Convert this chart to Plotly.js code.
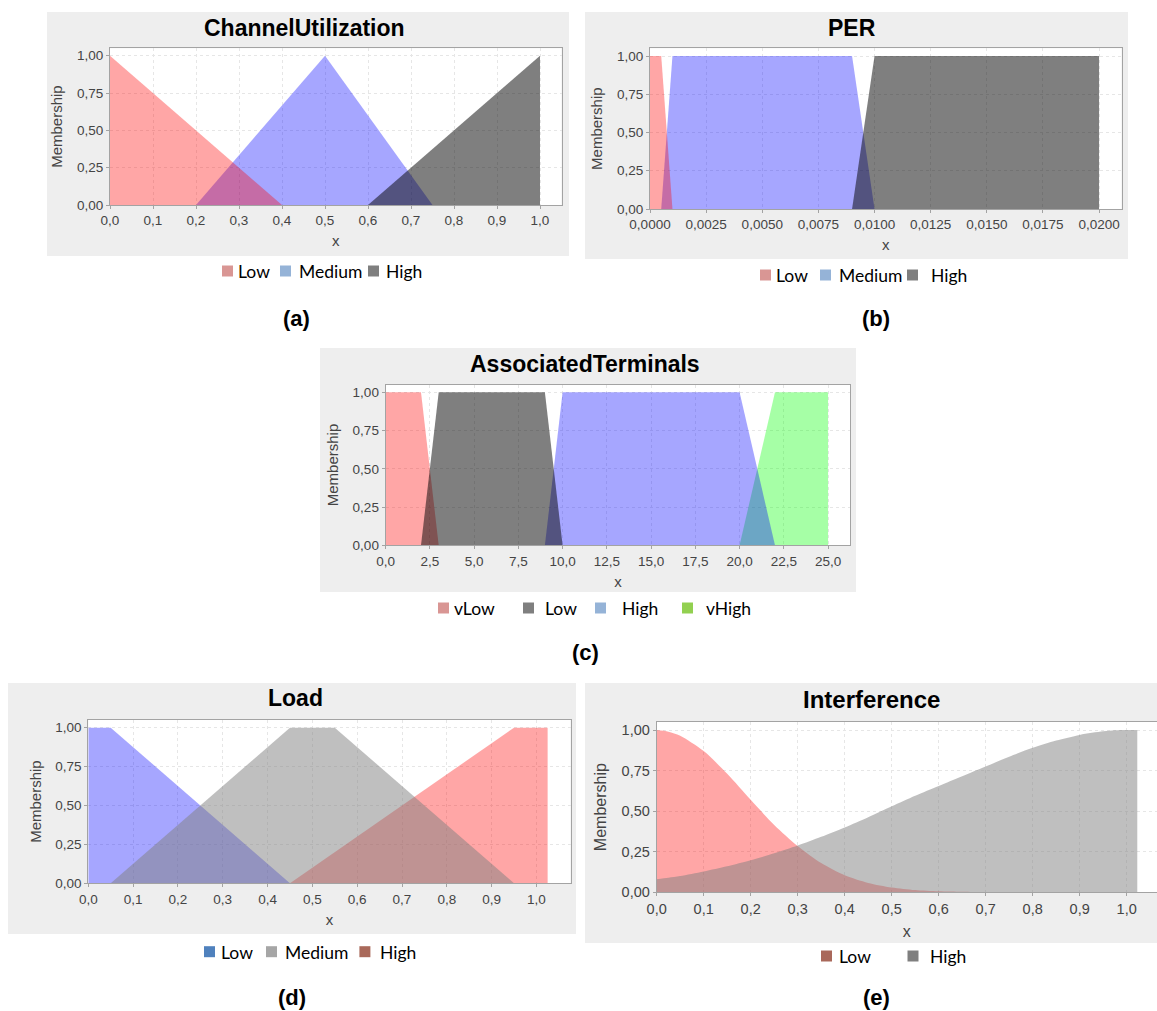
<!DOCTYPE html>
<html><head><meta charset="utf-8">
<script src="https://cdn.plot.ly/plotly-3.0.1.min.js"></script>
<style>html,body{margin:0;padding:0;background:#fff;} #chart{width:1157px;height:1011px;}</style>
</head><body><div id="chart"></div>
<script>
// ---------- DATA ----------
// (a) ChannelUtilization
const cuLowX = [0, 0.4],            cuLowY = [1, 0];
const cuMedX = [0.2, 0.5, 0.75],    cuMedY = [0, 1, 0];
const cuHighX = [0.6, 1.0],         cuHighY = [0, 1];
// (b) PER
const perLowX = [0, 0.0005, 0.001],            perLowY = [1, 1, 0];
const perMedX = [0.0005, 0.001, 0.009, 0.010], perMedY = [0, 1, 1, 0];
const perHighX = [0.009, 0.010, 0.020],        perHighY = [0, 1, 1];
// (c) AssociatedTerminals
const atVLowX = [0, 2, 3],        atVLowY = [1, 1, 0];
const atLowX = [2, 3, 9, 10],     atLowY = [0, 1, 1, 0];
const atHighX = [9, 10, 20, 22],  atHighY = [0, 1, 1, 0];
const atVHighX = [20, 22, 25],    atVHighY = [0, 1, 1];
// (d) Load
const ldLowX = [0, 0.05, 0.45],          ldLowY = [1, 1, 0];
const ldMedX = [0.05, 0.45, 0.55, 0.95], ldMedY = [0, 1, 1, 0];
const ldHighX = [0.45, 0.95, 1.025],     ldHighY = [0, 1, 1];
// (e) Interference
const intX    = [0,0.025,0.05,0.10,0.15,0.20,0.25,0.30,0.35,0.40,0.45,0.50,0.55,0.60,0.65,0.70,0.75,0.80,0.85,0.90,0.95,0.975,1.00,1.0225];
const intLow  = [1.00,0.99,0.965,0.87,0.73,0.57,0.415,0.285,0.18,0.105,0.058,0.030,0.014,0.006,0.003,0.001,0,0,0,0,0,0,0,0];
const intHigh = [0.08,0.09,0.10,0.128,0.16,0.197,0.24,0.288,0.342,0.40,0.463,0.53,0.595,0.655,0.715,0.775,0.835,0.89,0.935,0.97,0.992,0.998,1.0,1.0];

// legend labels and captions
const titles = ['ChannelUtilization','PER','AssociatedTerminals','Load','Interference'];
const legA = ['Low','Medium','High'];
const legC = ['vLow','Low','High','vHigh'];
const legE = ['Low','High'];
const captions = ['(a)','(b)','(c)','(d)','(e)'];

// ---------- STYLE ----------
const W = 1157, H = 1011;
const px = x => x / W, py = y => 1 - y / H;
const RED = 'rgba(255,0,0,0.35)', BLUE = 'rgba(0,0,255,0.35)', DARK = 'rgba(0,0,0,0.5)',
      GREEN = 'rgba(0,255,0,0.35)', GREY = 'rgba(128,128,128,0.5)';

function area(x, y, color, n, name, smooth) {
  const s = n === 1 ? '' : String(n);
  const t = {type:'scatter', x:x, y:y, mode:'none', fill:'tozeroy', fillcolor:color,
          xaxis:'x'+s, yaxis:'y'+s, name:name, showlegend:false, hoverinfo:'skip'};
  if (smooth) t.line = {shape:'spline', smoothing:0.8, width:0};
  return t;
}

const traces = [
  area(cuMedX, cuMedY, BLUE, 1, 'Medium'),
  area(cuLowX, cuLowY, RED, 1, 'Low'),
  area(cuHighX, cuHighY, DARK, 1, 'High'),

  area(perMedX, perMedY, BLUE, 2, 'Medium'),
  area(perLowX, perLowY, RED, 2, 'Low'),
  area(perHighX, perHighY, DARK, 2, 'High'),

  area(atVHighX, atVHighY, GREEN, 3, 'vHigh'),
  area(atHighX, atHighY, BLUE, 3, 'High'),
  area(atVLowX, atVLowY, RED, 3, 'vLow'),
  area(atLowX, atLowY, DARK, 3, 'Low'),

  area(ldLowX, ldLowY, BLUE, 4, 'Low'),
  area(ldHighX, ldHighY, RED, 4, 'High'),
  area(ldMedX, ldMedY, GREY, 4, 'Medium'),

  area(intX, intLow, RED, 5, 'Low', true),
  area(intX, intHigh, GREY, 5, 'High', true)
];

const FONT = 'Liberation Sans, Arial, sans-serif';
const LFONT = 'Lato, Open Sans, sans-serif';
const GRID = '#e6e6e6';

function xax(dom, range, dtick, fmt, yref, opts) {
  return Object.assign({
    domain:[px(dom[0]), px(dom[1])], range:range, dtick:dtick, tick0:0, tickformat:fmt,
    anchor:yref, showline:true, linecolor:'#a3a3a3', linewidth:1, mirror:true,
    ticks:'outside', ticklen:3, tickcolor:'#a3a3a3',
    showgrid:true, gridcolor:GRID, griddash:'3px,3px', gridwidth:1, zeroline:false,
    tickfont:{family:FONT, size:13.5, color:'#444'},
    title:{text:'x', font:{family:FONT, size:15, color:'#444'}, standoff:8},
    fixedrange:true
  }, opts || {});
}
function yax(dom, xref, opts) {
  return Object.assign({
    domain:[py(dom[1]), py(dom[0])], range:[0,1.05], dtick:0.25, tick0:0, tickformat:'.2f',
    anchor:xref, showline:true, linecolor:'#a3a3a3', linewidth:1, mirror:true,
    ticks:'outside', ticklen:3, tickcolor:'#a3a3a3',
    showgrid:true, gridcolor:GRID, griddash:'3px,3px', gridwidth:1, zeroline:false,
    tickfont:{family:FONT, size:13.5, color:'#444'},
    title:{text:'Membership', font:{family:FONT, size:15, color:'#444'}, standoff:10},
    fixedrange:true
  }, opts || {});
}

// plot-area pixel boxes [x0,x1],[ytop,ybottom]
const layout = {
  width:W, height:H, margin:{l:0,r:0,t:0,b:0},
  paper_bgcolor:'#fff', plot_bgcolor:'rgba(0,0,0,0)',
  separators:', ', showlegend:false,
  xaxis:  xax([110, 561.5], [0,1.05], 0.1, '.1f', 'y'),
  yaxis:  yax([48.2, 205], 'x'),
  xaxis2: xax([650, 1121.5], [0,0.021], 0.0025, '.4f', 'y2'),
  yaxis2: yax([48.35, 209], 'x2'),
  xaxis3: xax([385.6, 850.2], [0,26.25], 2.5, '.1f', 'y3'),
  yaxis3: yax([384.65, 545.3], 'x3'),
  xaxis4: xax([88.3, 570.5], [0,1.076], 0.1, '.1f', 'y4'),
  yaxis4: yax([719.9, 883.3], 'x4'),
  xaxis5: xax([656.7, 1157], [0,(1157-656.7)/470], 0.1, '.1f', 'y5',
              {tickfont:{family:FONT, size:14.5, color:'#444'},
               title:{text:'x', font:{family:FONT, size:16, color:'#444'}, standoff:10}}),
  yaxis5: yax([721.9, 892.3], 'x5',
              {mirror:false, tickfont:{family:FONT, size:14.5, color:'#444'},
               title:{text:'Membership', font:{family:FONT, size:16, color:'#444'}, standoff:10}}),
  shapes:[], annotations:[]
};

// grey panel backgrounds + white plot areas
const panels = [[47,12,569,256],[585,12,1128,259],[320,348,856,592],[8,683,576,934],[585,683,1157,943]];
panels.forEach(p => layout.shapes.push({type:'rect', xref:'paper', yref:'paper', layer:'below',
  x0:px(p[0]), x1:px(p[2]), y0:py(p[3]), y1:py(p[1]), fillcolor:'#eeeeee', line:{width:0}}));
['','2','3','4','5'].forEach(s => layout.shapes.push({type:'rect', xref:'x'+s+' domain', yref:'y'+s+' domain',
  layer:'below', x0:0, x1:1, y0:0, y1:1, fillcolor:'#ffffff', line:{width:0}}));

// chart titles
const titlePos = [[304,28.3,23],[852,28,23],[585,364.3,23],[295,698.3,23],[871.5,699.3,24]];
titles.forEach((t,i) => layout.annotations.push({text:t, xref:'paper', yref:'paper',
  x:px(titlePos[i][0]), y:py(titlePos[i][1]), xanchor:'center', yanchor:'middle', showarrow:false,
  font:{family:FONT, size:titlePos[i][2], color:'#000', weight:'bold'}}));

// captions
const capPos = [[296.7,318],[876,318],[585,652],[292,997],[876,997]];
captions.forEach((t,i) => layout.annotations.push({text:t, xref:'paper', yref:'paper',
  x:px(capPos[i][0]), y:py(capPos[i][1]), xanchor:'center', yanchor:'middle', showarrow:false,
  font:{family:FONT, size:22, color:'#000', weight:'bold'}}));

// legends: [labels, colors, square left x, text left x, center y]
const legends = [
  [legA, ['#d99694','#95b3d7','#7f7f7f'], [222,280,368], [236,296.6,384], 271],
  [legA, ['#d99694','#95b3d7','#7f7f7f'], [760,820,907], [774,837,929], 275],
  [legC, ['#d99694','#7f7f7f','#95b3d7','#92d050'], [438,523,595,682], [452,543,620,704], 608],
  [legA, ['#4f81bd','#a6a6a6','#a9695a'], [204,266,359.4], [218.7,283,377.6], 951.7],
  [legE, ['#a9685a','#7f7f7f'], [821,907.5], [837,928], 956]
];
legends.forEach(L => {
  L[0].forEach((lab,j) => {
    const sx = L[2][j], cy = L[4];
    layout.shapes.push({type:'rect', xref:'paper', yref:'paper', x0:px(sx), x1:px(sx+11),
      y0:py(cy+5.5), y1:py(cy-5.5), fillcolor:L[1][j], line:{width:0}});
    layout.annotations.push({text:lab, xref:'paper', yref:'paper', x:px(L[3][j]), y:py(cy+0.5),
      xanchor:'left', yanchor:'middle', showarrow:false,
      font:{family:LFONT, size:17.5, color:'#000'}});
  });
});

Plotly.newPlot('chart', traces, layout, {staticPlot:true, displayModeBar:false});
</script></body></html>
